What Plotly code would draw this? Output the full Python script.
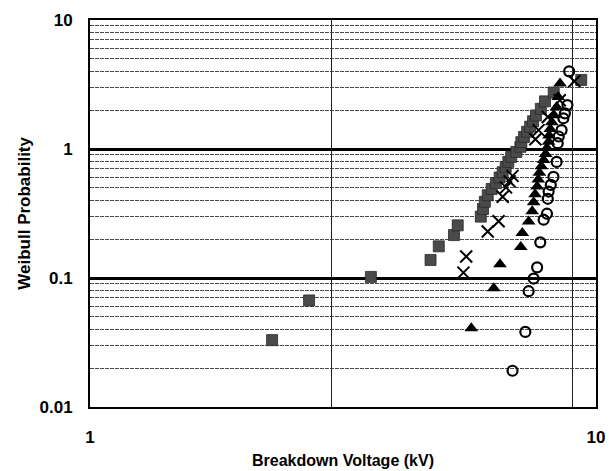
import plotly.graph_objects as go

# Breakdown voltage (kV) vs Weibull probability for four sample groups
square_kv = [2.29, 2.71, 3.59, 4.71, 4.89, 5.24, 5.33, 5.92, 5.98, 6.03,
             6.11, 6.22, 6.34, 6.45, 6.54, 6.63, 6.71, 6.80, 6.96, 7.09,
             7.12, 7.21, 7.31, 7.41, 7.51, 7.61, 7.78, 7.93, 8.25, 9.35]
square_prob = [0.033, 0.067, 0.102, 0.138, 0.176, 0.215, 0.256, 0.299, 0.343, 0.390,
               0.438, 0.490, 0.544, 0.601, 0.661, 0.726, 0.795, 0.869, 0.949, 1.04,
               1.13, 1.24, 1.36, 1.49, 1.64, 1.82, 2.05, 2.34, 2.74, 3.43]

cross_kv = [5.47, 5.54, 6.11, 6.42, 6.54, 6.64, 6.75, 6.84, 7.59, 7.70, 8.03, 8.48, 9.06]
cross_prob = [0.110, 0.147, 0.229, 0.275, 0.426, 0.504, 0.561, 0.619, 1.19, 1.40, 1.77, 2.39, 3.35]

tri_kv = [5.67, 6.28, 6.46, 7.10, 7.15, 7.36, 7.48, 7.53, 7.58, 7.65, 7.69, 7.73,
          7.80, 7.88, 7.95, 8.00, 8.06, 8.08, 8.12, 8.18, 8.26, 8.36, 8.42, 8.49]
tri_prob = [0.0408, 0.0834, 0.128, 0.174, 0.223, 0.274, 0.329, 0.386, 0.446, 0.511, 0.580, 0.654,
            0.734, 0.821, 0.916, 1.02, 1.14, 1.27, 1.43, 1.61, 1.83, 2.12, 2.53, 3.22]

circle_kv = [6.84, 7.25, 7.36, 7.53, 7.65, 7.76, 7.88, 8.00, 8.03, 8.06, 8.14,
             8.24, 8.36, 8.40, 8.44, 8.55, 8.62, 8.68, 8.78, 8.85]
circle_prob = [0.0191, 0.0382, 0.079, 0.099, 0.121, 0.189, 0.283, 0.315, 0.411, 0.468, 0.527,
               0.608, 0.794, 1.11, 1.25, 1.40, 1.73, 1.89, 2.19, 4.0]

x_ticks = [1, 10]
x_tick_text = ["1", "10"]
x_ref_lines = [3, 9]
y_ticks = [0.01, 0.1, 1, 10]
y_tick_text = ["0.01", "0.1", "1", "10"]
y_minor = [m * d for d in (0.01, 0.1, 1) for m in range(2, 10)]

FONT = "Liberation Sans, Arial, sans-serif"

fig = go.Figure()
fig.add_trace(go.Scatter(
    x=square_kv, y=square_prob, mode="markers",
    marker=dict(symbol="square", size=11, color="#4a4a4a",
                line=dict(width=0.8, color="#2a2a2a")),
))
fig.add_trace(go.Scatter(
    x=cross_kv, y=cross_prob, mode="markers",
    marker=dict(symbol="x-thin", size=12, color="black",
                line=dict(width=2, color="black")),
))
fig.add_trace(go.Scatter(
    x=tri_kv, y=tri_prob, mode="markers",
    marker=dict(symbol="triangle-up", size=12, color="black"),
))
fig.add_trace(go.Scatter(
    x=circle_kv, y=circle_prob, mode="markers",
    marker=dict(symbol="circle-open", size=10, color="black",
                line=dict(width=2.2, color="black")),
))

fig.update_layout(
    width=615, height=471,
    margin=dict(l=90, r=10, t=20, b=64),
    paper_bgcolor="white", plot_bgcolor="white",
    showlegend=False,
    font=dict(family=FONT, color="black"),
    xaxis=dict(
        type="log", range=[0, 1],
        tickvals=x_ticks, ticktext=x_tick_text,
        tickfont=dict(size=17, weight="bold"),
        ticks="outside", ticklen=14, tickcolor="rgba(0,0,0,0)",
        showgrid=False, zeroline=False,
        showline=True, mirror=True, linecolor="black", linewidth=2,
        minor=dict(tickvals=x_ref_lines, showgrid=True, gridcolor="#222",
                   gridwidth=1, ticks=""),
    ),
    yaxis=dict(
        type="log", range=[-2, 1],
        tickvals=y_ticks, ticktext=y_tick_text,
        tickfont=dict(size=17, weight="bold"),
        ticks="outside", ticklen=12, tickcolor="rgba(0,0,0,0)",
        showgrid=True, gridcolor="black", gridwidth=2.5, zeroline=False,
        showline=True, mirror=True, linecolor="black", linewidth=2,
        minor=dict(tickvals=y_minor, showgrid=True, gridcolor="#4a4a4a",
                   gridwidth=1, griddash="4px,1px", ticks=""),
    ),
    annotations=[
        dict(text="Breakdown Voltage (kV)", xref="paper", yref="paper",
             x=0.5, y=-0.137, xanchor="center", yanchor="middle", showarrow=False,
             font=dict(size=16, weight="bold", family=FONT)),
        dict(text="Weibull Probability", xref="paper", yref="paper",
             x=-0.13, y=0.5, xanchor="center", yanchor="middle", showarrow=False,
             textangle=-90, font=dict(size=17, weight="bold", family=FONT)),
    ],
)

fig.write_html("out.html")
